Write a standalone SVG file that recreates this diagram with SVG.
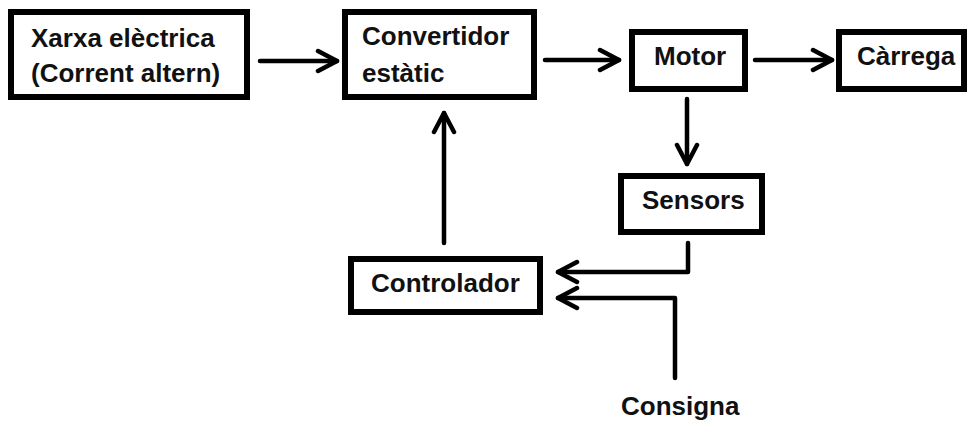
<svg xmlns="http://www.w3.org/2000/svg" width="968" height="424" viewBox="0 0 968 424">
<defs>
<style>
.box{fill:#fff;stroke:#000;stroke-width:6}
.t{font-family:"Liberation Sans",Arial,sans-serif;font-weight:bold;font-size:26px;fill:#111}
.c{fill:none;stroke:#000;stroke-width:4.5;stroke-linecap:round;stroke-linejoin:round}
</style>
<marker id="ah" viewBox="0 0 26 26" refX="23" refY="13" markerWidth="26" markerHeight="26" markerUnits="userSpaceOnUse" orient="auto">
<polyline points="4,3 23,13 4,23" fill="none" stroke="#000" stroke-width="4.5" stroke-linecap="round" stroke-linejoin="round"/>
</marker>
</defs>
<rect width="968" height="424" fill="#fff"/>
<g id="xarxa"><rect class="box" x="11" y="12" width="236" height="85"/><text class="t" x="31" y="47">Xarxa elèctrica</text><text class="t" x="31" y="82">(Corrent altern)</text></g>
<g id="convertidor"><rect class="box" x="345" y="12" width="189" height="85"/><text class="t" x="362" y="45">Convertidor</text><text class="t" x="362" y="82">estàtic</text></g>
<g id="motor"><rect class="box" x="632" y="32" width="113" height="57"/><text class="t" x="654" y="65">Motor</text></g>
<g id="carrega"><rect class="box" x="839" y="32" width="125" height="57"/><text class="t" x="857" y="65">Càrrega</text></g>
<g id="sensors"><rect class="box" x="621" y="176" width="141" height="56"/><text class="t" x="642" y="209">Sensors</text></g>
<g id="controlador"><rect class="box" x="351" y="259" width="189" height="53"/><text class="t" x="371" y="292">Controlador</text></g>
<g id="consigna"><text class="t" x="621" y="415">Consigna</text></g>
<g id="connectors">
<line class="c" x1="260" y1="61" x2="337" y2="61" marker-end="url(#ah)"/>
<line class="c" x1="545" y1="60" x2="619" y2="60" marker-end="url(#ah)"/>
<line class="c" x1="755" y1="60" x2="832" y2="60" marker-end="url(#ah)"/>
<line class="c" x1="687" y1="99" x2="687" y2="164" marker-end="url(#ah)"/>
<line class="c" x1="444" y1="243" x2="444" y2="113" marker-end="url(#ah)"/>
<polyline class="c" points="688,243 688,272 558,272" marker-end="url(#ah)"/>
<polyline class="c" points="675,378 675,298 558,298" marker-end="url(#ah)"/>
</g>
</svg>
